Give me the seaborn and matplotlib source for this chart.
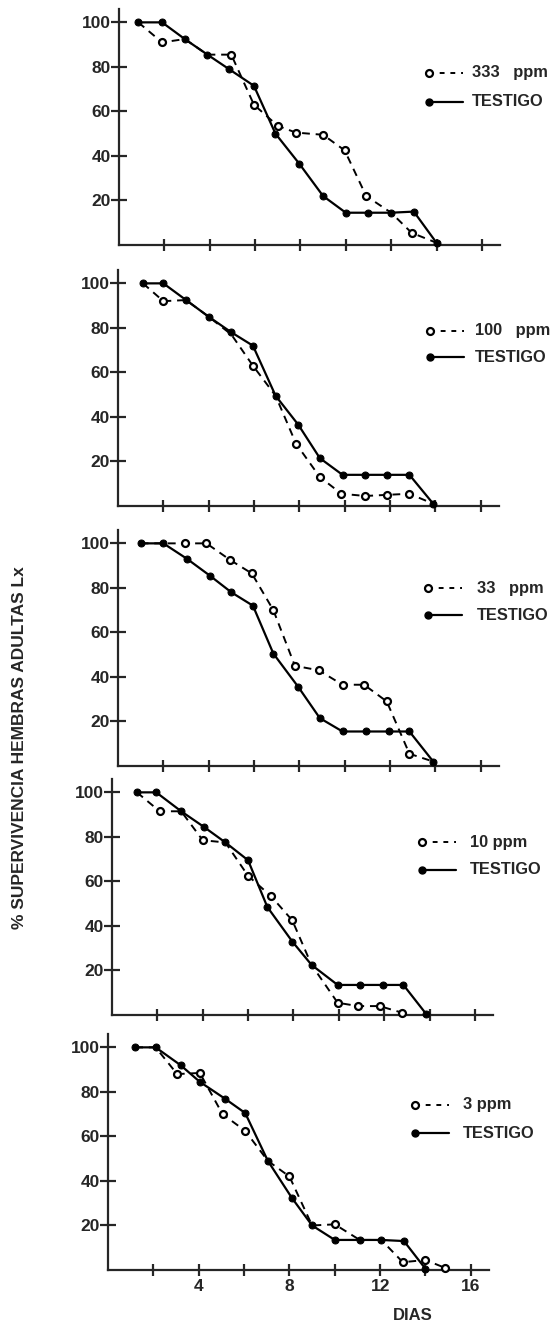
# survival curves of adult females, 5 doses vs control
import numpy as np
import pandas as pd
from matplotlib import pyplot as plt
import seaborn as sns

# data (dias, % supervivencia)
dose_labels = ['333   ppm', '100   ppm', '33   ppm', '10 ppm', '3 ppm']

ctrl_days = [
    [0.85, 1.9, 2.9, 3.9, 4.85, 5.95, 6.9, 7.95, 9.0, 10.0, 11.0, 12.0, 13.0, 14.0],
    [1.1, 2.0, 3.0, 4.0, 5.0, 5.95, 6.95, 7.95, 8.9, 9.9, 10.9, 11.85, 12.85, 13.9],
    [1.0, 2.0, 3.05, 4.05, 5.0, 5.95, 6.85, 7.95, 8.9, 9.9, 10.95, 11.95, 12.85, 13.9],
    [1.1, 1.95, 3.05, 4.05, 5.0, 6.0, 6.85, 7.95, 8.8, 9.95, 10.95, 11.95, 12.85, 13.85],
    [1.2, 2.1, 3.2, 4.05, 5.15, 6.05, 7.05, 8.1, 9.0, 10.0, 11.1, 12.05, 13.05, 14.0],
]
ctrl_vals = [
    [100, 100, 92.5, 85.5, 79, 71.5, 50, 36.5, 22, 14.5, 14.5, 14.5, 15, 1],
    [100, 100, 92.5, 85, 78, 72, 49.5, 36.5, 21.5, 14, 14, 14, 14, 1],
    [100, 100, 93, 85.5, 78, 72, 50.5, 35.5, 21.5, 15.5, 15.5, 15.5, 15.5, 2],
    [100, 100, 91.5, 84.5, 77.5, 69.5, 48.5, 33, 22.5, 13.5, 13.5, 13.5, 13.5, 0.5],
    [100, 100, 92, 84.5, 77, 70.5, 49, 32.5, 20, 13.5, 13.5, 13.5, 13, 0.5],
]

dose_days = [
    [0.85, 1.9, 2.9, 3.9, 4.95, 5.95, 7.0, 7.8, 9.0, 9.95, 10.9, 12.0, 12.9, 14.0],
    [1.1, 2.0, 3.0, 4.0, 5.0, 5.95, 6.95, 7.85, 8.9, 9.85, 10.9, 11.85, 12.85, 13.9],
    [1.0, 2.0, 2.95, 3.9, 4.95, 5.9, 6.85, 7.8, 8.85, 9.9, 10.85, 11.85, 12.85, 13.9],
    [1.1, 2.1, 3.05, 4.0, 5.0, 6.0, 7.0, 7.95, 8.8, 9.95, 10.85, 11.8, 12.8],
    [1.2, 2.1, 3.05, 4.05, 5.05, 6.05, 7.05, 8.0, 9.0, 10.0, 11.1, 12.05, 13.0, 14.0, 14.85],
]
dose_vals = [
    [100, 91, 92.5, 85.5, 85.5, 63, 53.5, 50.5, 49.5, 42.5, 22, 14.5, 5.5, 1],
    [100, 92, 92.5, 85, 77, 63, 49.5, 28, 13, 5.5, 4.5, 5, 5.5, 1],
    [100, 100, 100, 100, 92.5, 86.5, 70, 45, 43, 36.5, 36.5, 29, 5.5, 2],
    [100, 91.5, 91.5, 78.5, 77.5, 62.5, 53.5, 42.5, 22.5, 5.5, 4, 4, 1],
    [100, 100, 88, 88.5, 70, 62.5, 49, 42, 20, 20.5, 13.5, 13.5, 3.5, 4.5, 1],
]

# panel placement in pixels: left of y axis, y of x axis
panel_px = [(119, 245), (118, 506), (118, 766), (112, 1015), (108, 1270)]
# legend: marker x, text x, row 1 y, row 2 y
legend_px = [(429, 472, 73, 102), (430, 475, 331, 357), (428, 477, 588, 615),
             (422, 470, 842, 870), (415, 463, 1105, 1133)]

W, H = 552, 1324
sns.set_style('ticks')
plt.rcParams['font.family'] = ['Liberation Sans', 'DejaVu Sans']
plt.rcParams['font.weight'] = 'bold'

fig = plt.figure(figsize=(W / 100, H / 100), dpi=100)
ax_w, ax_h = 381, 236

for i in range(5):
    L, B = panel_px[i]
    ax = fig.add_axes([L / W, 1 - B / H, ax_w / W, ax_h / H])

    dose_df = pd.DataFrame({'dia': dose_days[i], 'lx': dose_vals[i]})
    ctrl_df = pd.DataFrame({'dia': ctrl_days[i], 'lx': ctrl_vals[i]})

    # open circles only where the point is not shared with the control curve
    shared = [any(abs(d - cd) < 0.2 and abs(v - cv) < 2 for cd, cv in zip(ctrl_days[i], ctrl_vals[i]))
              for d, v in zip(dose_days[i], dose_vals[i])]
    mark = [not s for s in shared]

    sns.lineplot(data=dose_df, x='dia', y='lx', ax=ax, sort=False, estimator=None,
                 color='black', linewidth=1.4, linestyle=(0, (4, 3)),
                 marker='o', markersize=5, markevery=mark, markerfacecolor='white',
                 markeredgecolor='black', markeredgewidth=1.6, clip_on=False, zorder=3)
    sns.lineplot(data=ctrl_df, x='dia', y='lx', ax=ax, sort=False, estimator=None,
                 color='black', linewidth=1.6, marker='o', markersize=5,
                 markerfacecolor='black', markeredgecolor='black', clip_on=False, zorder=4)

    ax.set_xlim(0, 16.8)
    ax.set_ylim(0, 106)
    ax.set_yticks([20, 40, 60, 80, 100])
    ax.set_xticks(np.arange(2, 17, 2))
    if i == 4:
        ax.set_xticklabels(['', '4', '', '8', '', '12', '', '16'])
    else:
        ax.set_xticklabels([])
    ax.set_xlabel('')
    ax.set_ylabel('')
    sns.despine(ax=ax)
    for s in ['left', 'bottom']:
        ax.spines[s].set_linewidth(1.6)
    ax.tick_params(axis='y', direction='inout', length=12, width=1.6, pad=0, labelsize=12.5)
    ax.tick_params(axis='x', direction='inout', length=9, width=1.6, pad=2, labelsize=12.5)

    # hand-drawn style legend, marker at the left end of the line
    mx, tx, y1, y2 = legend_px[i]
    tr = fig.transFigure
    ax.plot([mx / W, (mx + 34) / W], [1 - y1 / H] * 2, transform=tr, clip_on=False,
            color='black', linewidth=1.4, linestyle=(0, (2.5, 3)))
    ax.plot([mx / W], [1 - y1 / H], transform=tr, clip_on=False, marker='o',
            markersize=5, markerfacecolor='white', markeredgecolor='black',
            markeredgewidth=1.6)
    ax.plot([mx / W, (mx + 34) / W], [1 - y2 / H] * 2, transform=tr, clip_on=False,
            color='black', linewidth=1.6)
    ax.plot([mx / W], [1 - y2 / H], transform=tr, clip_on=False, marker='o',
            markersize=5, color='black')
    fig.text(tx / W, 1 - y1 / H, dose_labels[i], fontsize=11.8, va='center', ha='left')
    fig.text(tx / W, 1 - y2 / H, 'TESTIGO', fontsize=11.8, va='center', ha='left')

fig.text(20 / W, 1 - 748 / H, '% SUPERVIVENCIA HEMBRAS ADULTAS Lx', rotation=90,
         fontsize=12.5, ha='center', va='center')
fig.text(413 / W, 1 - 1315 / H, 'DIAS', fontsize=12, ha='center', va='center')

fig.savefig('out.png', dpi=100)
